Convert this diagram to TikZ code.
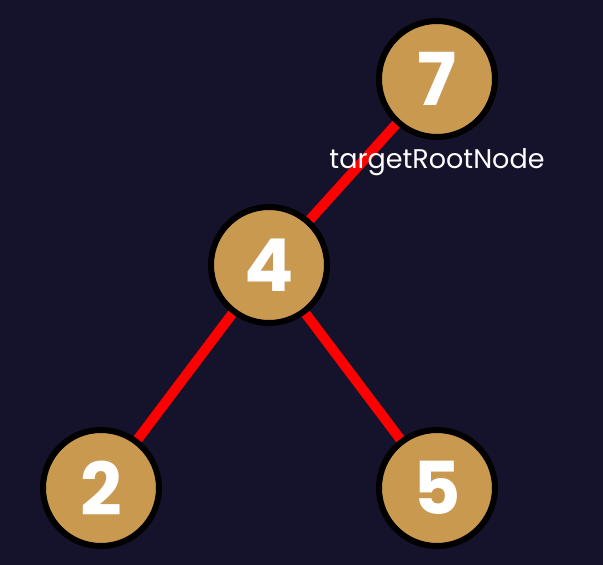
\documentclass[tikz,border=0pt]{standalone}
\usepackage{fontspec}
\setmainfont{Poppins}
\usetikzlibrary{positioning,backgrounds}
\definecolor{bgnavy}{HTML}{15122B}
\definecolor{nodegold}{HTML}{C9994F}
\begin{document}
\begin{tikzpicture}[%
        x=1pt, y=1pt,
        on grid,
        treenode/.style={%
          circle,
          minimum size=116pt,
          inner sep=0pt,
          fill=nodegold,
          draw=black,
          line width=6pt,
          text=white,
          font=\fontsize{73}{73}\selectfont\bfseries
        },
        redge/.style={draw=red, line width=10pt},
        tag/.style={text=white, font=\fontsize{27}{27}\selectfont}
      ]
      \useasboundingbox (0,0) rectangle (603,-565);
      \node[treenode] (n7) at (437,-79) {7};
      \node[treenode] (n4) [below left=186pt and 168pt of n7] {4};
      \node[treenode] (n2) [below left=223pt and 168pt of n4] {2};
      \node[treenode] (n5) [below right=223pt and 168pt of n4] {5};
      \node[tag] (lbl) [below=83pt of n7] {targetRootNode};

      \begin{scope}[on background layer]
      \fill[bgnavy] (0,0) rectangle (603,-565);
      \path[redge] (n7) -- (n4)
      (n4) -- (n2)
      (n4) -- (n5);
      \end{scope}

  \end{tikzpicture}
\end{document}
